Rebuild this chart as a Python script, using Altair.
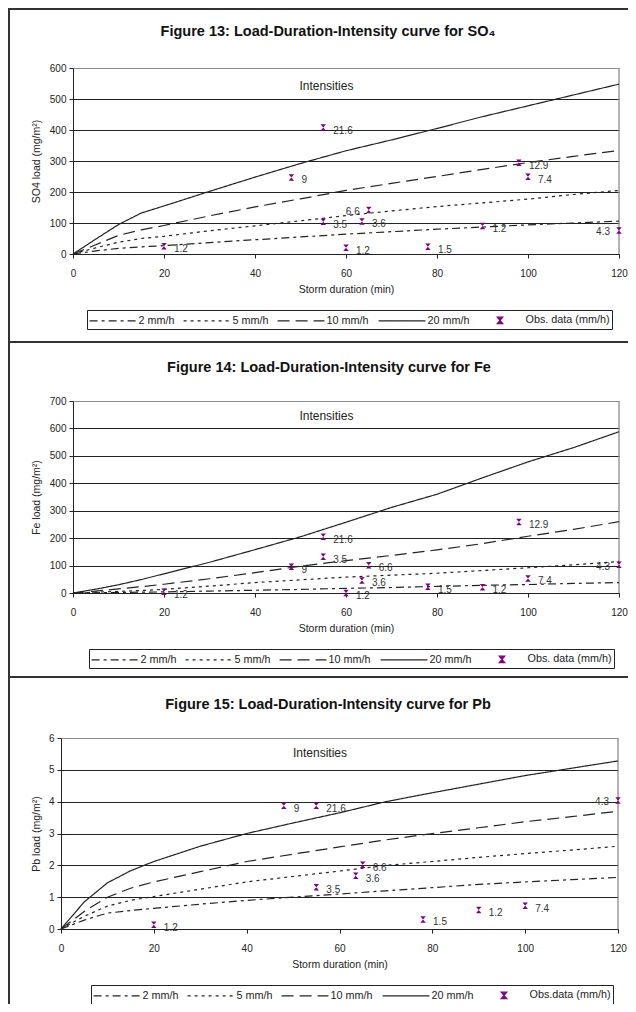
import altair as alt
import pandas as pd

FONT = "Liberation Sans"
INK = "#222222"
GREY = "#8c8c8c"
PURPLE = "#800080"

# ---------------- data ----------------
DURATIONS = [0, 5, 10, 15, 20, 30, 40, 50, 60, 70, 80, 90, 100, 110, 120]
SERIES = ["2 mm/h", "5 mm/h", "10 mm/h", "20 mm/h"]

# Figure 13 - SO4 (mg/m2)
SO4_2MM = [0, 10, 18, 23, 27, 37, 46, 55, 64, 72, 80, 87, 94, 100, 106]
SO4_5MM = [0, 20, 38, 50, 57, 75, 91, 107, 124, 139, 153, 165, 177, 192, 205]
SO4_10MM = [0, 30, 60, 78, 92, 123, 152, 178, 205, 228, 250, 273, 295, 315, 334]
SO4_20MM = [0, 48, 95, 132, 155, 202, 248, 292, 333, 368, 405, 443, 478, 513, 548]
SO4_OBS_DURATION = [20, 48, 55, 55, 60, 63.5, 65, 78, 90, 98, 100, 120]
SO4_OBS_LOAD = [25, 247, 408, 104, 20, 105, 142, 23, 90, 294, 249, 76]
SO4_OBS_INTENSITY = ["1.2", "9", "21.6", "3.5", "1.2", "3.6", "6.6", "1.5", "1.2", "12.9", "7.4", "4.3"]
SO4_LEFT_LABELS = ["6.6", "4.3"]

# Figure 14 - Fe (mg/m2)
FE_2MM = [0, 1, 2, 3, 4, 7, 10, 13, 17, 20, 24, 28, 31, 35, 38]
FE_5MM = [0, 3, 6, 9, 13, 25, 38, 48, 58, 65, 72, 82, 92, 103, 115]
FE_10MM = [0, 7, 15, 23, 32, 52, 74, 98, 118, 137, 157, 180, 207, 232, 260]
FE_20MM = [0, 14, 30, 49, 70, 112, 158, 205, 258, 312, 360, 420, 478, 530, 588]
FE_OBS_DURATION = [20, 48, 55, 55, 60, 63.5, 65, 78, 90, 98, 100, 120]
FE_OBS_LOAD = [5, 96, 205, 132, 0, 46, 101, 23, 21, 259, 53, 103]
FE_OBS_INTENSITY = ["1.2", "9", "21.6", "3.5", "1.2", "3.6", "6.6", "1.5", "1.2", "12.9", "7.4", "4.3"]
FE_LEFT_LABELS = ["4.3"]

# Figure 15 - Pb (mg/m2)
PB_2MM = [0, 0.28, 0.5, 0.58, 0.65, 0.78, 0.9, 1.0, 1.1, 1.2, 1.3, 1.4, 1.48, 1.55, 1.62]
PB_5MM = [0, 0.4, 0.72, 0.9, 1.02, 1.25, 1.48, 1.65, 1.82, 2.0, 2.12, 2.25, 2.37, 2.48, 2.6]
PB_10MM = [0, 0.55, 1.0, 1.28, 1.48, 1.8, 2.12, 2.35, 2.58, 2.8, 3.0, 3.18, 3.37, 3.53, 3.7]
PB_20MM = [0, 0.85, 1.45, 1.83, 2.12, 2.6, 3.0, 3.33, 3.65, 4.0, 4.28, 4.55, 4.82, 5.05, 5.28]
PB_OBS_DURATION = [20, 48, 55, 55, 63.5, 65, 78, 90, 100, 120]
PB_OBS_LOAD = [0.13, 3.87, 3.87, 1.31, 1.67, 2.02, 0.3, 0.6, 0.73, 4.04]
PB_OBS_INTENSITY = ["1.2", "9", "21.6", "3.5", "3.6", "6.6", "1.5", "1.2", "7.4", "4.3"]
PB_LEFT_LABELS = ["4.3"]

X_TICKS = [0, 20, 40, 60, 80, 100, 120]
X_MAX = 120

# ---------------- styling / layout (pixels inside the 620 x 996 canvas) ----------------
W, H = 620, 996
LINE_PATH = "M-3.6,0H3.6"
MARK_PATH = "M-0.42,-0.5H0.42L-0.42,0.5H0.42Z"
DASHES = [[8, 4, 3, 4], [3, 4], [12, 6], [1, 0], [1, 0]]


def panel(ytitle, ymax, ystep, curves, obs_x, obs_y, obs_lab, left_labels, obs_name,
          intens, px, py, legend_xy, ytitle_page_x=28):
    domain = SERIES + [obs_name]
    rows = []
    for name, vals in zip(SERIES, curves):
        for d, v in zip(DURATIONS, vals):
            rows.append({"duration": d, "load": v, "series": name})
    df_lines = pd.DataFrame(rows)
    df_obs = pd.DataFrame({"duration": obs_x, "load": obs_y, "label": obs_lab,
                           "series": obs_name})
    df_obs["left"] = df_obs["label"].isin(left_labels)

    x0, x1 = px
    y0, y1 = py  # top, bottom
    xscale = alt.Scale(domain=[0, X_MAX], range=[x0, x1], nice=False, zero=False)
    yscale = alt.Scale(domain=[0, ymax], range=[y1, y0], nice=False)
    yvals = [round(i * ystep, 6) for i in range(int(round(ymax / ystep)) + 1)]

    xaxis = alt.Axis(orient="bottom", offset=y1 - H, values=X_TICKS,
                     title="Storm duration (min)", grid=False, labelPadding=10,
                     titleX=(x0 + x1) / 2, titleY=35, titleBaseline="middle",
                     labelFlush=False, labelOverlap=False)
    yaxis = alt.Axis(orient="left", offset=-x0, values=yvals, title=ytitle, grid=True,
                     labelPadding=3, titleX=ytitle_page_x - x0, titleY=(y0 + y1) / 2,
                     titleAngle=270, titleBaseline="middle", titleAlign="center",
                     format="d", labelOverlap=False,
                     gridColor={"condition": {"test": f"datum.value >= {ymax}", "value": GREY},
                                "value": INK})
    X = alt.X("duration:Q", scale=xscale, axis=xaxis)
    Y = alt.Y("load:Q", scale=yscale, axis=yaxis)

    legend = alt.Legend(title=None, orient="none", legendX=legend_xy[0], legendY=legend_xy[1],
                        direction="horizontal", columns=5, symbolSize=169,
                        symbolOffset=16, labelOffset=18, columnPadding=6, padding=2.5,
                        strokeColor=INK, labelFont=FONT, labelFontSize=10.8, labelColor=INK,
                        symbolStrokeWidth=1.2)
    cscale = alt.Scale(domain=domain, range=[INK] * 4 + [PURPLE])
    dscale = alt.Scale(domain=domain, range=DASHES)
    sscale = alt.Scale(domain=domain, range=[LINE_PATH] * 4 + [MARK_PATH])

    # right-hand edge of the plot area (grey, like the top gridline)
    edge = pd.DataFrame({"duration": [X_MAX], "load": [0], "top": [ymax]})
    right_edge = alt.Chart(edge).mark_rule(color=GREY, strokeWidth=1.3).encode(
        x=X, y=Y, y2="top:Q")

    lines = alt.Chart(df_lines).mark_line(strokeWidth=1.2).encode(
        x=X, y=Y,
        color=alt.Color("series:N", scale=cscale, legend=legend),
        strokeDash=alt.StrokeDash("series:N", scale=dscale, legend=legend),
    )
    points = alt.Chart(df_obs).mark_point(filled=True, size=169, opacity=1).encode(
        x=X, y=Y,
        color=alt.Color("series:N", scale=cscale, legend=legend),
        shape=alt.Shape("series:N", scale=sscale, legend=legend),
    )
    lab_right = alt.Chart(df_obs).transform_filter("!datum.left").mark_text(
        align="left", baseline="middle", dx=10, dy=3, font=FONT, fontSize=10, color="#333333"
    ).encode(x=X, y=Y, text="label:N")
    lab_left = alt.Chart(df_obs).transform_filter("datum.left").mark_text(
        align="right", baseline="middle", dx=-9, dy=2, font=FONT, fontSize=10, color="#333333"
    ).encode(x=X, y=Y, text="label:N")
    intens_df = pd.DataFrame({"duration": [intens[0]], "load": [intens[1]], "t": ["Intensities"]})
    intens_txt = alt.Chart(intens_df).mark_text(font=FONT, fontSize=12, color=INK).encode(
        x=X, y=Y, text="t:N")

    return alt.layer(right_edge, lines, points, lab_right, lab_left, intens_txt)


p1 = panel("SO4 load (mg/m\u00b2)", 600, 100, [SO4_2MM, SO4_5MM, SO4_10MM, SO4_20MM],
           SO4_OBS_DURATION, SO4_OBS_LOAD, SO4_OBS_INTENSITY, SO4_LEFT_LABELS,
           "Obs. data (mm/h)", (55.7, 542), (65, 611), (60, 246), (79, 302))
p2 = panel("Fe load (mg/m\u00b2)", 700, 100, [FE_2MM, FE_5MM, FE_10MM, FE_20MM],
           FE_OBS_DURATION, FE_OBS_LOAD, FE_OBS_INTENSITY, FE_LEFT_LABELS,
           "Obs. data (mm/h)", (55.7, 644), (65, 611), (393, 585), (81, 641))
p3 = panel("Pb load (mg/m\u00b2)", 6, 1, [PB_2MM, PB_5MM, PB_10MM, PB_20MM],
           PB_OBS_DURATION, PB_OBS_LOAD, PB_OBS_INTENSITY, PB_LEFT_LABELS,
           "Obs.data (mm/h)", (55.8, 5.53), (53, 610), (730, 921), (83, 977))

# ---------------- frame lines and figure titles ----------------
TITLES = ["Figure 13: Load-Duration-Intensity curve for SO\u2084",
          "Figure 14: Load-Duration-Intensity curve for Fe",
          "Figure 15: Load-Duration-Intensity curve for Pb"]
TITLE_POS = [(320, 24), (321, 360), (320, 697)]
SEPARATORS = [1, 334, 669]

one = pd.DataFrame({"k": [0]})
decor = [alt.Chart(one).mark_rule(color="#333333", strokeWidth=2).encode(
    x=alt.value(1), y=alt.value(0), y2=alt.value(H))]
for sy in SEPARATORS:
    decor.append(alt.Chart(one).mark_rule(color="#333333", strokeWidth=2).encode(
        x=alt.value(0), x2=alt.value(W), y=alt.value(sy)))
for t, (tx, ty) in zip(TITLES, TITLE_POS):
    decor.append(alt.Chart(one).mark_text(
        font=FONT, fontSize=14.5, fontWeight="bold", color="#111111",
        align="center", baseline="middle"
    ).encode(x=alt.value(tx), y=alt.value(ty), text=alt.value(t)))

chart = alt.layer(p1, p2, p3, *decor).resolve_scale(
    x="independent", y="independent", color="independent",
    strokeDash="independent", shape="independent"
).properties(
    width=W, height=H, padding=0, autosize=alt.AutoSizeParams(type="none")
).configure_view(
    strokeOpacity=0
).configure_axis(
    labelFont=FONT, labelFontSize=10, labelColor=INK, titleFont=FONT, titleFontSize=10.5,
    titleFontWeight="normal", titleColor=INK, domainColor=INK, domainWidth=1,
    tickColor=INK, tickSize=4, tickWidth=1, gridWidth=1, gridOpacity=1
)

chart.save("out.html", embed_options={"renderer": "svg", "actions": False})
